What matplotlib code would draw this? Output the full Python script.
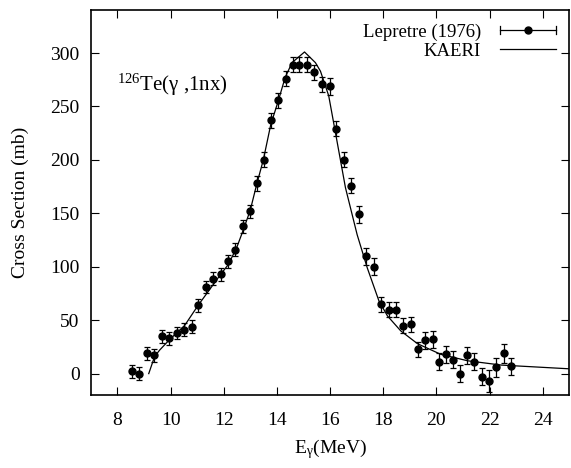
import matplotlib
matplotlib.use("Agg")
import matplotlib.pyplot as plt
from matplotlib.legend_handler import HandlerBase
from matplotlib.lines import Line2D

plt.rcParams.update({
    "font.family": ["Liberation Serif", "DejaVu Serif"],
    "mathtext.fontset": "custom",
    "mathtext.rm": "Liberation Serif",
    "mathtext.it": "Liberation Serif:italic",
    "font.size": 14,
    "axes.linewidth": 1.2,
    "xtick.direction": "in",
    "ytick.direction": "in",
    "xtick.top": True,
    "ytick.right": True,
    "xtick.major.size": 6,
    "ytick.major.size": 6,
})

# Lepretre (1976) data
exp_e = [8.55, 8.83, 9.11, 9.39, 9.68, 9.95, 10.23, 10.51, 10.79, 11.05,
         11.33, 11.60, 11.88, 12.16, 12.43, 12.71, 12.98, 13.26, 13.51, 13.78,
         14.05, 14.33, 14.59, 14.84, 15.13, 15.41, 15.70, 15.98, 16.24, 16.52,
         16.80, 17.09, 17.36, 17.64, 17.91, 18.20, 18.48, 18.76, 19.04, 19.30,
         19.58, 19.86, 20.11, 20.37, 20.64, 20.90, 21.17, 21.43, 21.72, 21.99,
         22.26, 22.55, 22.82]
exp_xs = [2, 0, 19, 17, 35, 33, 38, 41, 44, 64,
          81, 89, 93, 105, 116, 138, 152, 178, 200, 237,
          256, 276, 289, 289, 289, 282, 271, 269, 229, 200,
          176, 149, 110, 100, 65, 60, 60, 45, 46, 23,
          31, 32, 11, 18, 13, 0, 17, 11, -3, -7,
          6, 19, 7]
exp_err = [6, 6, 6, 6, 6, 6, 6, 6, 6, 6,
           6, 6, 6, 6, 6, 6, 6, 7, 7, 7,
           7, 7, 7, 7, 7, 7, 7, 8, 7, 7,
           7, 8, 8, 8, 7, 7, 7, 7, 7, 7,
           8, 8, 8, 8, 8, 8, 8, 8, 8, 10,
           9, 9, 8]

# KAERI evaluation
kaeri_e = [9.18, 9.40, 9.59, 9.97, 10.53, 11.04, 11.48, 11.86, 12.17, 12.49,
           12.73, 13.00, 13.24, 13.49, 13.77, 14.05, 14.31, 14.57, 15.04, 15.45,
           15.64, 15.95, 16.20, 16.58, 17.02, 17.40, 17.84, 18.16, 18.66, 19.29,
           20.17, 21.18, 22.44, 25.00]
kaeri_xs = [0, 16, 22, 32, 45, 64, 79, 92, 102, 118,
            134, 153, 177, 200, 233, 255, 277, 291, 301, 291,
            283, 260, 226, 174, 130, 99, 68, 54, 40, 28,
            18, 12, 8, 4.5]

x_ticks = [8, 10, 12, 14, 16, 18, 20, 22, 24]
y_ticks = [0, 50, 100, 150, 200, 250, 300]


class HandlerHBar(HandlerBase):
    # gnuplot style key: horizontal bar with end ticks and a dot
    def create_artists(self, legend, orig_handle, xdescent, ydescent,
                       width, height, fontsize, trans):
        y = height / 2 - ydescent
        x0, x1 = -xdescent, width - xdescent
        cap = height * 0.3
        arts = [
            Line2D([x0, x1], [y, y], color="k", lw=0.9),
            Line2D([x0, x0], [y - cap, y + cap], color="k", lw=0.9),
            Line2D([x1, x1], [y - cap, y + cap], color="k", lw=0.9),
            Line2D([(x0 + x1) / 2], [y], marker="o", ms=5, color="k", ls="none"),
        ]
        for a in arts:
            a.set_transform(trans)
        return arts


fig = plt.figure(figsize=(5.71, 4.68), dpi=100)
ax = fig.add_axes([0.159, 0.156, 0.838, 0.822])

eb = ax.errorbar(exp_e, exp_xs, yerr=exp_err, fmt="o", color="k", ms=5,
                 elinewidth=0.9, capsize=2.5, capthick=0.9)
ln, = ax.plot(kaeri_e, kaeri_xs, color="k", lw=0.9)

ax.set_xlim(7, 25)
ax.set_ylim(-20, 340)
ax.set_xticks(x_ticks)
ax.set_yticks(y_ticks)
ax.tick_params(axis="x", pad=12)
ax.tick_params(axis="y", pad=8)

ax.set_xlabel(r"E$_\mathrm{γ}$(MeV)", labelpad=6)
ax.set_ylabel("Cross Section (mb)", labelpad=15)
ax.text(0.054, 0.805, r"$^{126}$Te(γ ,1nx)", transform=ax.transAxes,
        va="center", ha="left", fontsize=15)

ax.legend([eb, ln], ["Lepretre (1976)", "KAERI"], loc="upper right",
          frameon=False, markerfirst=False, handlelength=3.0, fontsize=13.5,
          handletextpad=1.0, labelspacing=0.1, borderaxespad=0.3,
          handler_map={type(eb): HandlerHBar()})

fig.savefig("out.png", dpi=100, facecolor="white")
